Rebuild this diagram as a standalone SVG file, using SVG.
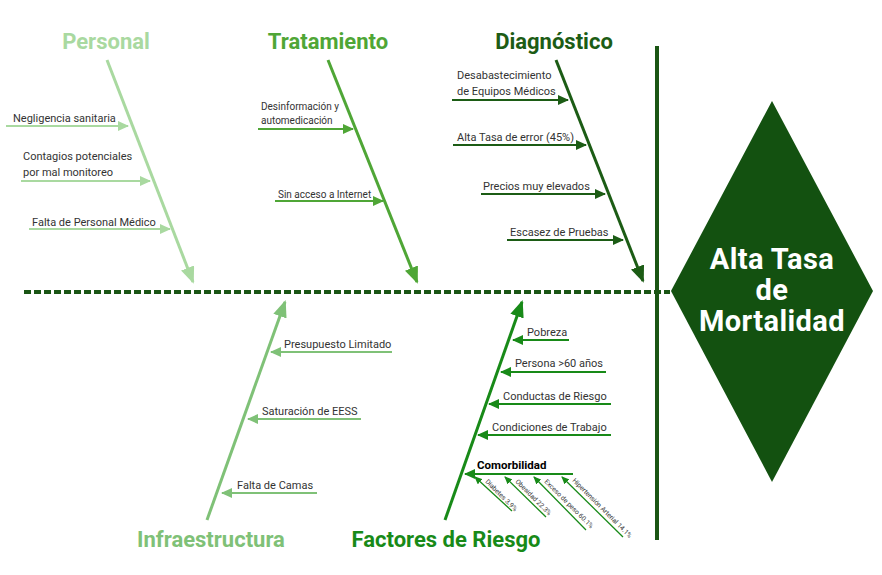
<svg xmlns="http://www.w3.org/2000/svg" width="882" height="575" viewBox="0 0 882 575">
<style>
text{font-family:Roboto,"Liberation Sans",sans-serif;}
.title{font-size:22px;font-weight:bold;text-anchor:middle;}
.lbl{font-size:11px;fill:#333333;}
.lbs{font-size:10px;fill:#333333;}
.sub{font-size:6.7px;fill:#333333;}
.big{font-size:29px;font-weight:bold;fill:#ffffff;text-anchor:middle;letter-spacing:0.4px;}
.main{fill:none;stroke-width:3;}
.rib{fill:none;stroke-width:2;}
.thin{fill:none;stroke-width:1.3;}
.c1{stroke:#a9d9a0;} .c2{stroke:#4fa636;} .c3{stroke:#1c5c15;} .c4{stroke:#7fc177;} .c5{stroke:#188a18;}
</style>
<defs>
<marker id="b1" markerUnits="userSpaceOnUse" markerWidth="18" markerHeight="14" refX="15" refY="7" orient="auto"><path d="M0,0 L17,7 L0,14 z" fill="#a9d9a0"/></marker>
<marker id="b2" markerUnits="userSpaceOnUse" markerWidth="18" markerHeight="14" refX="15" refY="7" orient="auto"><path d="M0,0 L17,7 L0,14 z" fill="#4fa636"/></marker>
<marker id="b3" markerUnits="userSpaceOnUse" markerWidth="18" markerHeight="14" refX="15" refY="7" orient="auto"><path d="M0,0 L17,7 L0,14 z" fill="#1c5c15"/></marker>
<marker id="b4" markerUnits="userSpaceOnUse" markerWidth="18" markerHeight="14" refX="15" refY="7" orient="auto"><path d="M0,0 L17,7 L0,14 z" fill="#7fc177"/></marker>
<marker id="b5" markerUnits="userSpaceOnUse" markerWidth="18" markerHeight="14" refX="15" refY="7" orient="auto"><path d="M0,0 L17,7 L0,14 z" fill="#188a18"/></marker>
<marker id="s1" markerUnits="userSpaceOnUse" markerWidth="11" markerHeight="10" refX="10" refY="5" orient="auto"><path d="M0,0 L11,5 L0,10 z" fill="#a9d9a0"/></marker>
<marker id="s2" markerUnits="userSpaceOnUse" markerWidth="11" markerHeight="10" refX="10" refY="5" orient="auto"><path d="M0,0 L11,5 L0,10 z" fill="#4fa636"/></marker>
<marker id="s3" markerUnits="userSpaceOnUse" markerWidth="11" markerHeight="10" refX="10" refY="5" orient="auto"><path d="M0,0 L11,5 L0,10 z" fill="#1c5c15"/></marker>
<marker id="s4" markerUnits="userSpaceOnUse" markerWidth="11" markerHeight="10" refX="10" refY="5" orient="auto"><path d="M0,0 L11,5 L0,10 z" fill="#7fc177"/></marker>
<marker id="s5" markerUnits="userSpaceOnUse" markerWidth="11" markerHeight="10" refX="10" refY="5" orient="auto"><path d="M0,0 L11,5 L0,10 z" fill="#188a18"/></marker>
<marker id="t5" markerUnits="userSpaceOnUse" markerWidth="8" markerHeight="7" refX="7" refY="3.5" orient="auto"><path d="M0,0 L8,3.5 L0,7 z" fill="#188a18"/></marker>
</defs>

<g id="connectors">
  <line x1="24" y1="292" x2="670" y2="292" stroke="#1a5514" stroke-width="4" stroke-dasharray="7 3"/>
  <line x1="657" y1="46" x2="657" y2="540" stroke="#1a5514" stroke-width="4"/>
  <!-- Personal -->
  <line class="main c1" x1="107" y1="60" x2="193" y2="282" marker-end="url(#b1)"/>
  <line class="rib c1" x1="6" y1="126" x2="128" y2="126" marker-end="url(#s1)"/>
  <line class="rib c1" x1="21" y1="181" x2="150" y2="181" marker-end="url(#s1)"/>
  <line class="rib c1" x1="29" y1="229" x2="170" y2="229" marker-end="url(#s1)"/>
  <!-- Tratamiento -->
  <line class="main c2" x1="328" y1="60" x2="417" y2="282" marker-end="url(#b2)"/>
  <line class="rib c2" x1="258" y1="129" x2="353" y2="129" marker-end="url(#s2)"/>
  <line class="rib c2" x1="275" y1="201" x2="383" y2="201" marker-end="url(#s2)"/>
  <!-- Diagnostico -->
  <line class="main c3" x1="556" y1="60" x2="643" y2="281" marker-end="url(#b3)"/>
  <line class="rib c3" x1="452" y1="100" x2="568" y2="100" marker-end="url(#s3)"/>
  <line class="rib c3" x1="453" y1="145" x2="586" y2="145" marker-end="url(#s3)"/>
  <line class="rib c3" x1="481" y1="194" x2="605" y2="194" marker-end="url(#s3)"/>
  <line class="rib c3" x1="507" y1="240" x2="623" y2="240" marker-end="url(#s3)"/>
  <!-- Infraestructura -->
  <line class="main c4" x1="207" y1="520" x2="285" y2="302" marker-end="url(#b4)"/>
  <line class="rib c4" x1="392" y1="352" x2="271" y2="352" marker-end="url(#s4)"/>
  <line class="rib c4" x1="361" y1="419" x2="248" y2="419" marker-end="url(#s4)"/>
  <line class="rib c4" x1="317" y1="493" x2="222" y2="493" marker-end="url(#s4)"/>
  <!-- Factores de Riesgo -->
  <line class="main c5" x1="445" y1="520" x2="522" y2="302" marker-end="url(#b5)"/>
  <line class="rib c5" x1="569" y1="340" x2="513" y2="340" marker-end="url(#s5)"/>
  <line class="rib c5" x1="606" y1="372" x2="501" y2="372" marker-end="url(#s5)"/>
  <line class="rib c5" x1="611" y1="404" x2="489" y2="404" marker-end="url(#s5)"/>
  <line class="rib c5" x1="611" y1="435" x2="478" y2="435" marker-end="url(#s5)"/>
  <line class="rib c5" x1="573" y1="474" x2="465" y2="474" marker-end="url(#s5)"/>
  <line class="thin c5" x1="512" y1="511" x2="475" y2="477" marker-end="url(#t5)"/>
  <line class="thin c5" x1="546" y1="517" x2="505" y2="477" marker-end="url(#t5)"/>
  <line class="thin c5" x1="586" y1="530" x2="534" y2="477" marker-end="url(#t5)"/>
  <line class="thin c5" x1="623" y1="537" x2="562" y2="477" marker-end="url(#t5)"/>
</g>

<g id="personal">
  <text class="title" x="106" y="49" fill="#a9d9a0">Personal</text>
  <text class="lbl" x="13" y="122">Negligencia sanitaria</text>
  <text class="lbl" x="23" y="160">Contagios potenciales</text>
  <text class="lbl" x="23" y="176">por mal monitoreo</text>
  <text class="lbl" x="32" y="226">Falta de Personal Médico</text>
</g>

<g id="tratamiento">
  <text class="title" x="328" y="49" fill="#4fa636">Tratamiento</text>
  <text class="lbs" x="261" y="110">Desinformación y</text>
  <text class="lbs" x="261" y="124">automedicación</text>
  <text class="lbs" x="278" y="198">Sin acceso a Internet</text>
</g>

<g id="diagnostico">
  <text class="title" x="554" y="49" fill="#1c5c15">Diagnóstico</text>
  <text class="lbl" x="457" y="79">Desabastecimiento</text>
  <text class="lbl" x="457" y="95">de Equipos Médicos</text>
  <text class="lbl" x="457" y="141">Alta Tasa de error (45%)</text>
  <text class="lbl" x="483" y="190">Precios muy elevados</text>
  <text class="lbl" x="510" y="236">Escasez de Pruebas</text>
</g>

<g id="infraestructura">
  <text class="title" x="211" y="547" fill="#7fc177">Infraestructura</text>
  <text class="lbl" x="284" y="348">Presupuesto Limitado</text>
  <text class="lbl" x="262" y="415">Saturación de EESS</text>
  <text class="lbl" x="237" y="489">Falta de Camas</text>
</g>

<g id="factores">
  <text class="title" x="446" y="547" fill="#188a18">Factores de Riesgo</text>
  <text class="lbl" x="527" y="336">Pobreza</text>
  <text class="lbl" x="515" y="367">Persona &gt;60 años</text>
  <text class="lbl" x="503" y="400">Conductas de Riesgo</text>
  <text class="lbl" x="492" y="431">Condiciones de Trabajo</text>
  <text x="477" y="469" font-size="11.5" font-weight="bold" fill="#000000">Comorbilidad</text>
  <text class="sub" transform="translate(485,482) rotate(45)">Diabetes 3.9%</text>
  <text class="sub" transform="translate(515,482) rotate(45)">Obesidad 22.3%</text>
  <text class="sub" transform="translate(544,482) rotate(45)">Exceso de peso 60.1%</text>
  <text class="sub" transform="translate(572,481) rotate(45)">Hipertensión Arterial 14.1%</text>
</g>

<g id="efecto">
  <polygon points="772,101 873,291 772,482 671,291" fill="#135110"/>
  <text class="big" x="772" y="269">Alta Tasa</text>
  <text class="big" x="772" y="300">de</text>
  <text class="big" x="772" y="331">Mortalidad</text>
</g>
</svg>
